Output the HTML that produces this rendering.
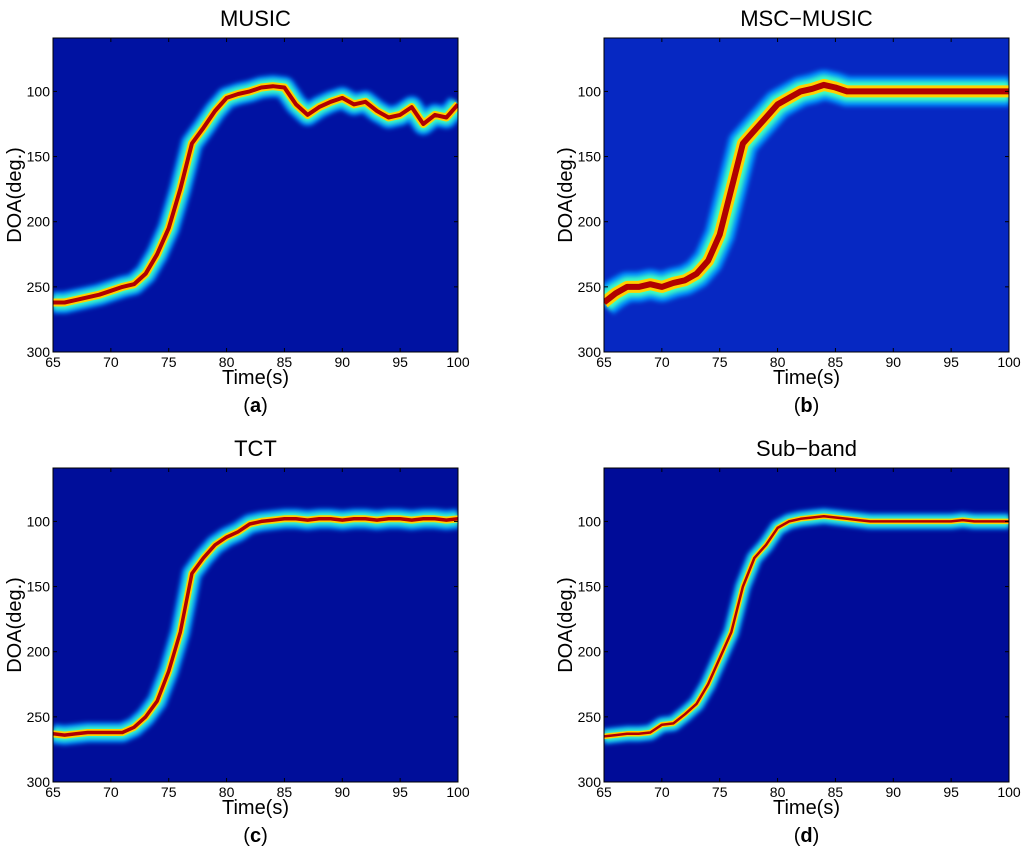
<!DOCTYPE html>
<html><head><meta charset="utf-8">
<style>
body{margin:0;background:#fff;}
svg text{font-family:"Liberation Sans",sans-serif;fill:#000;}
</style></head>
<body>
<svg id="fig" width="1024" height="863" viewBox="0 0 1024 863" xmlns="http://www.w3.org/2000/svg">
<defs><filter id="soft" filterUnits="userSpaceOnUse" x="0" y="0" width="1024" height="863"><feGaussianBlur stdDeviation="2"/></filter></defs>
</svg>
<script>
const timeTicks=[65,70,75,80,85,90,95,100];
const doaTicks=[100,150,200,250,300];
const times=[65,66,67,68,69,70,71,72,73,74,75,76,77,78,79,80,81,82,83,84,85,86,87,88,89,90,91,92,93,94,95,96,97,98,99,100];
const trackMusic=[262,262,260,258,256,253,250,248,240,225,205,175,140,128,115,105,102,100,97,96,97,110,118,112,108,105,110,108,115,120,118,112,125,118,120,110];
const trackMsc=[262,255,250,250,248,250,247,245,240,230,210,175,140,130,120,110,105,100,98,95,97,100,100,100,100,100,100,100,100,100,100,100,100,100,100,100];
const trackTct=[263,264,263,262,262,262,262,258,250,238,215,185,140,128,118,112,108,102,100,99,98,98,99,98,98,99,98,98,99,98,98,99,98,98,99,98];
const trackSub=[265,264,263,263,262,256,255,248,240,225,205,185,150,128,118,105,100,98,97,96,97,98,99,100,100,100,100,100,100,100,100,99,100,100,100,100];
const titles=["MUSIC","MSC\u2212MUSIC","TCT","Sub\u2212band"];
const letters=["a","b","c","d"];
const tracks=[trackMusic,trackMsc,trackTct,trackSub];
const NS="http://www.w3.org/2000/svg";
const svg=document.getElementById('fig');
function mk(tag,attrs,parent){const e=document.createElementNS(NS,tag);for(const k in attrs)e.setAttribute(k,attrs[k]);(parent||svg).appendChild(e);return e;}
const panels=[{x0:53,x1:458,y0:38,y1:352},{x0:604,x1:1009,y0:38,y1:352},{x0:53,x1:458,y0:468,y1:782},{x0:604,x1:1009,y0:468,y1:782}];
const yMin=59,yMax=300,tMin=65,tMax=100;
const bgs=["#0012a2","#0628c2","#000e9a","#000c98"];
const bandW=[[22,14,8,4],[30,20,12,6],[20,12,7,3.5],[16,10,5.5,2.5]];
panels.forEach((p,i)=>{
  const g=mk('g',{});
  
  
  const sx=t=>p.x0+(t-tMin)/(tMax-tMin)*(p.x1-p.x0);
  const sy=d=>p.y1-(yMax-d)/(yMax-yMin)*(p.y1-p.y0);
  const cid='clip'+i;
  const cp=mk('clipPath',{id:cid},g);
  mk('rect',{x:p.x0,y:p.y0,width:p.x1-p.x0,height:p.y1-p.y0},cp);
  const bg=mk('rect',{x:p.x0,y:p.y0,width:p.x1-p.x0,height:p.y1-p.y0,fill:bgs[i]},g);
  
  
  const cg=mk('g',{'clip-path':'url(#'+cid+')'},g);
  const tr=tracks[i];
  const d=tr.map((v,k)=>(k?'L':'M')+sx(times[k]).toFixed(1)+','+sy(v).toFixed(1)).join(' ');
  const cols=["#0090ff","#40ffc0","#ffd000","#b00000"];
  const lg=mk('g',{},cg);
  
  
  bandW[i].forEach((w,j)=>{
    const at={d:d,fill:'none',stroke:cols[j],'stroke-width':w,'stroke-linejoin':'round','stroke-linecap':'butt'};
    if(j<2) at.filter='url(#soft)';
    const pa=mk('path',at,lg);
    
    
  });
  const fr=mk('rect',{x:p.x0,y:p.y0,width:p.x1-p.x0,height:p.y1-p.y0,fill:'none',stroke:'#000','stroke-width':1},g);
  
  
  timeTicks.forEach(t=>{
    mk('line',{x1:sx(t),x2:sx(t),y1:p.y1,y2:p.y1-4,stroke:'#000'},g);
    mk('line',{x1:sx(t),x2:sx(t),y1:p.y0,y2:p.y0+4,stroke:'#000'},g);
    const tx=mk('text',{x:sx(t),y:p.y1+15,'text-anchor':'middle','font-size':14},g);
    tx.textContent=t;
    
    
  });
  doaTicks.forEach(v=>{
    mk('line',{x1:p.x0,x2:p.x0+4,y1:sy(v),y2:sy(v),stroke:'#000'},g);
    mk('line',{x1:p.x1,x2:p.x1-4,y1:sy(v),y2:sy(v),stroke:'#000'},g);
    const ty=mk('text',{x:p.x0-3,y:sy(v)+5,'text-anchor':'end','font-size':14},g);
    ty.textContent=v;
    
    
  });
  const cx=(p.x0+p.x1)/2;
  const ti=mk('text',{x:cx,y:p.y0-12,'text-anchor':'middle','font-size':22},g);
  ti.textContent=titles[i];
  
  
  const xl=mk('text',{x:cx,y:p.y1+32,'text-anchor':'middle','font-size':20},g);
  xl.textContent='Time(s)';
  
  
  const yl=mk('text',{x:0,y:0,'text-anchor':'middle','font-size':20,transform:'translate('+(p.x0-32)+','+((p.y0+p.y1)/2)+') rotate(-90)'},g);
  yl.textContent='DOA(deg.)';
  
  
  const cap=mk('text',{x:cx,y:p.y1+60,'text-anchor':'middle','font-size':20,'font-family':'Liberation Serif, serif'},g);
  cap.innerHTML='(<tspan font-weight="bold">'+letters[i]+'</tspan>)';
  
  
});
</script>
</body></html>
